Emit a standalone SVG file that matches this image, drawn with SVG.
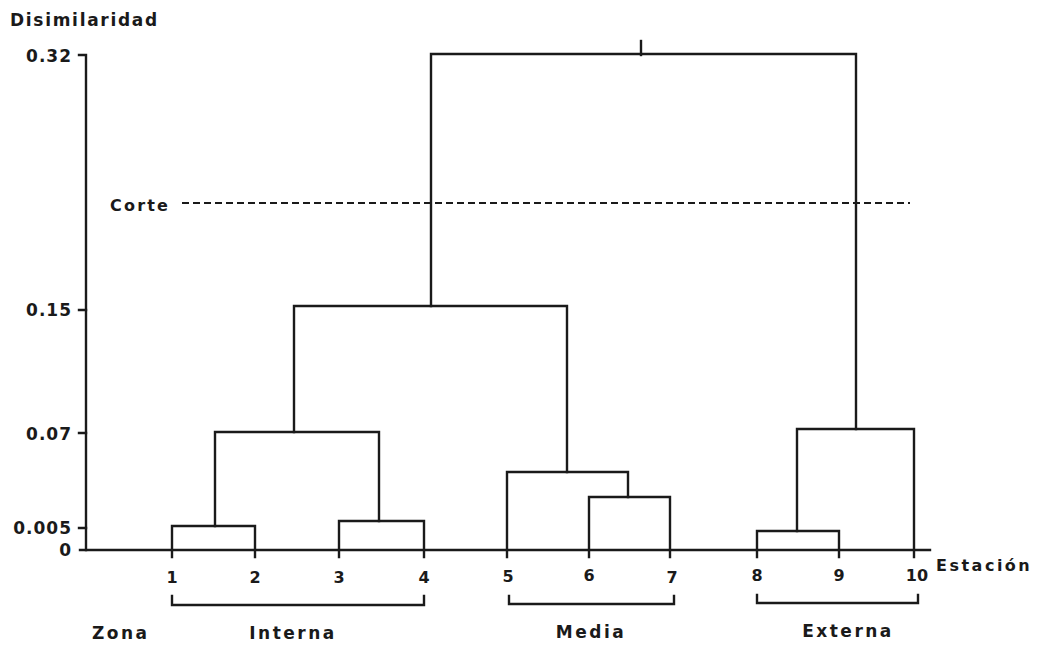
<svg xmlns="http://www.w3.org/2000/svg" width="1046" height="648" viewBox="0 0 1046 648">
<style>
.ln{fill:none;stroke:#1a1a1a;stroke-width:2.4;stroke-linejoin:miter;stroke-linecap:square}
.t{font-family:"DejaVu Sans","Liberation Sans",sans-serif;font-weight:bold;fill:#1a1a1a}
.ax{font-size:17px;letter-spacing:1px}
.lf{font-size:16px;text-anchor:middle}
.lb{font-size:17px;letter-spacing:2.5px}
</style>
<rect width="1046" height="648" fill="#ffffff"/>
<g id="axes">
<path class="ln" d="M79,55 H86 V550"/>
<path class="ln" d="M80,550 H930"/>
<path class="ln" d="M79,310 H86 M79,433 H86 M79,528 H86"/>
<text class="t" x="10" y="26" font-size="17" letter-spacing="1.7">Disimilaridad</text>
<text class="t ax" x="72" y="62" text-anchor="end">0.32</text>
<text class="t ax" x="72" y="316" text-anchor="end">0.15</text>
<text class="t ax" x="72" y="440" text-anchor="end">0.07</text>
<text class="t ax" x="72" y="534" text-anchor="end">0.005</text>
<text class="t ax" x="72" y="556" text-anchor="end">0</text>
<text class="t" x="936" y="571" font-size="16" letter-spacing="2.5">Estación</text>
</g>
<g id="corte">
<text class="t" x="110" y="211" font-size="16" letter-spacing="2.2">Corte</text>
<path d="M182,203 H910" fill="none" stroke="#1a1a1a" stroke-width="2" stroke-dasharray="7,4"/>
</g>
<g id="connectors">
<path class="ln" d="M172,557 V526 H255 V557"/>
<path class="ln" d="M339,557 V521 H424 V557"/>
<path class="ln" d="M215,526 V432 H379 V521"/>
<path class="ln" d="M589,557 V497 H670 V557"/>
<path class="ln" d="M507,557 V472 H628 V497"/>
<path class="ln" d="M294,432 V306 H567 V472"/>
<path class="ln" d="M757,557 V531 H839 V557"/>
<path class="ln" d="M797,531 V429 H914 V557"/>
<path class="ln" d="M431,306 V54 H856 V429"/>
<path class="ln" d="M641,41 V55"/>
</g>
<g id="leaves">
<text class="t lf" x="172" y="583">1</text>
<text class="t lf" x="255" y="583">2</text>
<text class="t lf" x="339" y="583">3</text>
<text class="t lf" x="424" y="583">4</text>
<text class="t lf" x="508" y="582">5</text>
<text class="t lf" x="589" y="581">6</text>
<text class="t lf" x="672" y="583">7</text>
<text class="t lf" x="757" y="581">8</text>
<text class="t lf" x="839" y="581">9</text>
<text class="t lf" x="917" y="581">10</text>
</g>
<g id="zones">
<path class="ln" d="M172,596 V605 H424 V596"/>
<path class="ln" d="M509,596 V604 H674 V596"/>
<path class="ln" d="M757,595 V603 H918 V595"/>
<text class="t lb" x="92" y="639">Zona</text>
<text class="t lb" x="293" y="639" text-anchor="middle">Interna</text>
<text class="t lb" x="591" y="638" text-anchor="middle">Media</text>
<text class="t lb" x="848" y="637" text-anchor="middle">Externa</text>
</g>
</svg>
